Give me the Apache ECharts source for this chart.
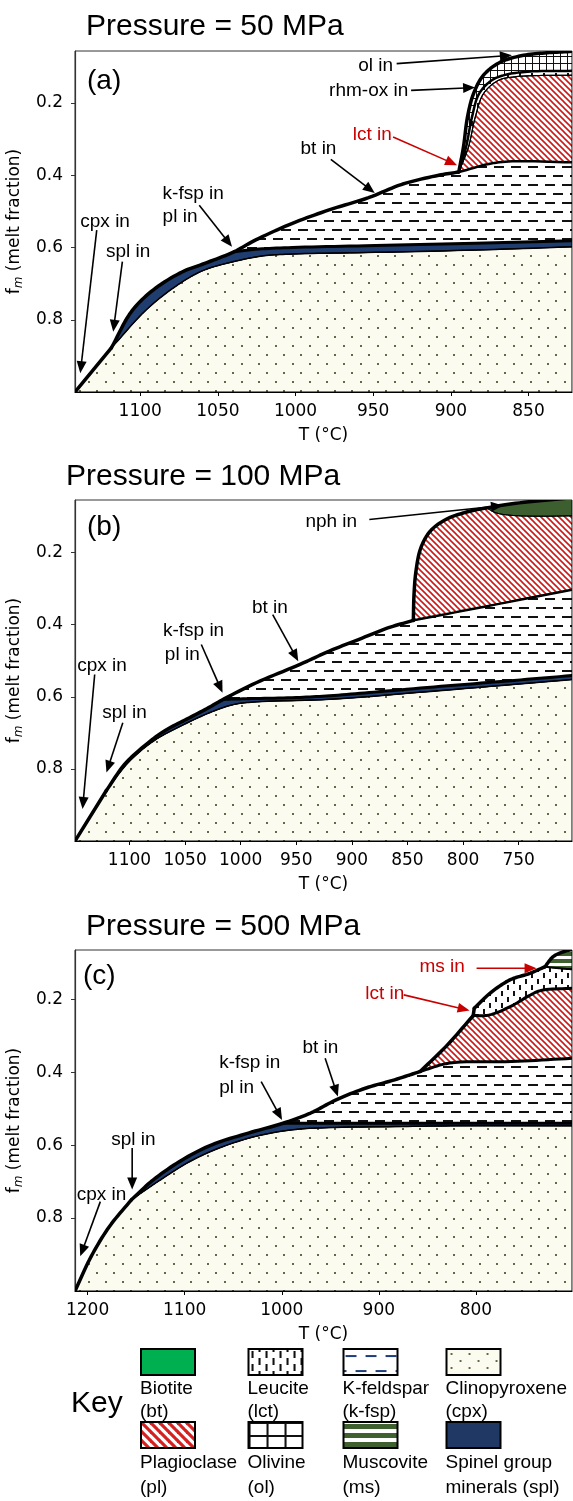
<!DOCTYPE html>
<html>
<head>
<meta charset="utf-8">
<script src="https://cdn.jsdelivr.net/npm/echarts@6/dist/echarts.min.js"></script>
<style>
html,body{margin:0;padding:0;background:#fff;}
#chart{width:573px;height:1501px;}
</style>
</head>
<body>
<div id="chart"></div>
<script>
// phase boundaries, [T (°C), melt fraction]
// --- 50 MPa
var liqA = [[1142,1.0],[1118.6,0.878],[1105.6,0.777],[1091.5,0.717],[1072.7,0.667],[1058.5,0.644],[1039.7,0.612],[1025.6,0.579],[1002,0.533],[978.4,0.496],[953,0.462],[931.4,0.425],[907.8,0.40],[894.9,0.391],[891.9,0.322],[889.3,0.239],[885.4,0.174],[879,0.123],[868.2,0.087],[853.2,0.068],[838.1,0.061],[822,0.057]];
var cpxTopA = [[1118.6,0.878],[1096.2,0.773],[1077.4,0.708],[1059.7,0.664],[1039.7,0.639],[1020.8,0.623],[1002,0.618],[955,0.614],[884.3,0.607],[822,0.598]];
var splTopA = [[1039.7,0.612],[1025.6,0.605],[1002,0.600],[955,0.595],[884.3,0.588],[822,0.581]];
var fspTopA = [[894.9,0.391],[869,0.364],[822,0.364]];
var plTopA = [[894.9,0.391],[888.7,0.322],[884.3,0.239],[879,0.174],[869.3,0.137],[858,0.127],[845,0.124],[822,0.123]];
var olBaseA = [[894.9,0.391],[890.2,0.322],[886.4,0.239],[881.8,0.174],[873.6,0.137],[864,0.121],[849,0.113],[822,0.111]];
// --- 100 MPa
var liqB = [[1149,1.0],[1120.8,0.86],[1104.3,0.787],[1084.6,0.731],[1068.2,0.694],[1048.5,0.662],[1028.8,0.63],[1015.6,0.607],[986,0.561],[946.6,0.51],[920.2,0.473],[890.7,0.437],[867.7,0.409],[844.7,0.388],[844.1,0.317],[842.4,0.253],[838.1,0.188],[829.9,0.142],[816.7,0.11],[798.7,0.089],[779,0.076],[749.4,0.062],[702,0.048]];
var cpxTopB = [[1120.8,0.86],[1101,0.782],[1078,0.722],[1051.8,0.678],[1025.5,0.641],[1005.8,0.621],[986,0.614],[920.2,0.607],[821.7,0.583],[702,0.552]];
var splTopB = [[1015.6,0.607],[990,0.605],[950,0.602],[920,0.597],[880,0.587],[820,0.571],[760,0.556],[702,0.541]];
var fspTopB = [[844.7,0.388],[772.4,0.345],[702,0.303]];
var nphBaseB = [[779,0.076],[770,0.09],[755,0.097],[730,0.099],[702,0.098]];
// --- 500 MPa
var liqC = [[1213,1.0],[1196.3,0.905],[1177.5,0.823],[1154.9,0.75],[1132.3,0.695],[1102.2,0.64],[1072,0.599],[1034.4,0.567],[998.6,0.54],[970.3,0.512],[944,0.476],[913.9,0.444],[883.8,0.421],[857.4,0.398],[831,0.33],[802.8,0.245],[801.7,0.225],[785.6,0.184],[765,0.147],[744.4,0.129],[728.9,0.111],[720.3,0.083],[710,0.07],[701,0.063]];
var cpxTopC = [[1154.9,0.75],[1124.8,0.695],[1094.7,0.645],[1064.5,0.608],[1026.9,0.576],[989.2,0.558],[951.5,0.552],[876.2,0.549],[819.7,0.547],[701,0.547]];
var splTopC = [[998.6,0.54],[913.9,0.54],[701,0.54]];
var fspTopC = [[857.4,0.398],[827.2,0.375],[763.2,0.371],[701,0.362]];
var plTopC = [[802.8,0.245],[786,0.243],[763,0.218],[745,0.19],[733,0.176],[701,0.17]];
var msBaseC = [[728.9,0.111],[715,0.115],[701,0.118]];

// corners on the liquidus (phase-in points)
var kinksA = [1118.6, 894.9];
var kinksB = [1120.8, 844.7];
var kinksC = [1154.9, 857.4, 802.8, 801.7, 728.9];

// tick labels
var xTicksA = [1100,1050,1000,950,900,850];
var xTicksB = [1100,1050,1000,950,900,850,800,750];
var xTicksC = [1200,1100,1000,900,800];
var yTicks = [0.2,0.4,0.6,0.8];

// annotations: label, text at [T,fm], arrow from [T,fm] to [T,fm]
var notesA = [
    ['ol in', 959.7, 0.096, 934.9, 0.091, 860.7, 0.068],
    ['rhm-ox in', 978.4, 0.167, 925.6, 0.165, 884.4, 0.157],
    ['lct in', 963.2, 0.289, 937.2, 0.294, 896, 0.372],
    ['bt in', 996.8, 0.326, 977.3, 0.356, 949, 0.449],
    ['k-fsp in', 1085.6, 0.45],
    ['pl in', 1085.6, 0.515, 1062, 0.483, 1040.9, 0.598],
    ['cpx in', 1138.6, 0.529, 1128, 0.552, 1138.6, 0.948],
    ['spl in', 1122.1, 0.612, 1111.5, 0.639, 1117.4, 0.833]
];
var notesB = [
    ['nph in', 941.8, 0.114, 884.3, 0.108, 764.1, 0.069],
    ['bt in', 989.9, 0.352, 971.2, 0.372, 948.2, 0.501],
    ['k-fsp in', 1069.9, 0.418],
    ['pl in', 1068.2, 0.483, 1035.4, 0.455, 1016.3, 0.589],
    ['cpx in', 1147, 0.515, 1131.3, 0.538, 1142.2, 0.911],
    ['spl in', 1124.4, 0.644, 1106, 0.672, 1120.7, 0.81]
];
var notesC = [
    ['ms in', 858.1, 0.111, 799.3, 0.115, 737.5, 0.115],
    ['lct in', 913.9, 0.184, 874.3, 0.188, 806.5, 0.231],
    ['bt in', 978.7, 0.334, 955.3, 0.362, 942.2, 0.467],
    ['k-fsp in', 1064.5, 0.375],
    ['pl in', 1064.5, 0.444, 1021.2, 0.426, 999.7, 0.531],
    ['spl in', 1175.6, 0.585, 1154.1, 0.608, 1154.1, 0.722],
    ['cpx in', 1211.3, 0.736, 1186.9, 0.755, 1207.6, 0.905]
];
var redNotes = ['lct in', 'ms in'];

// key
var keyNames = [['Biotite','(bt)'],['Leucite','(lct)'],['K-feldspar','(k-fsp)'],['Clinopyroxene','(cpx)'],
                ['Plagioclase','(pl)'],['Olivine','(ol)'],['Muscovite','(ms)'],['Spinel group','minerals (spl)']];

// ---------- fill patterns
function tile(w, h, bg, draw) {
    var c = document.createElement('canvas');
    c.width = w; c.height = h;
    var g = c.getContext('2d');
    g.fillStyle = bg; g.fillRect(0, 0, w, h);
    if (draw) draw(g);
    return {image: c, repeat: 'repeat'};
}
function hatch(s, col, lw) {
    return tile(s, s, '#fff', function (g) {
        g.strokeStyle = col; g.lineWidth = lw;
        for (var k = -1; k <= 1; k++) {
            g.beginPath(); g.moveTo(k * s - 1, -1); g.lineTo(k * s + s + 1, s + 1); g.stroke();
        }
    });
}
var pat = {
    cpx: tile(17, 18, '#fbfbef', function (g) { g.fillStyle = '#66664a'; g.fillRect(3, 3, 2, 2); g.fillRect(11, 12, 2, 2); }),
    spl: '#1f3d6f',
    kfsp: tile(17, 18, '#fff', function (g) { g.fillStyle = '#111'; g.fillRect(1, 4, 10, 2); g.fillRect(9, 13, 10, 2); g.fillRect(-8, 13, 10, 2); }),
    plag: hatch(6, '#cc1a1a', 1.6),
    ol: tile(7, 7, '#fff', function (g) { g.fillStyle = '#111'; g.fillRect(0, 0, 7, 1); g.fillRect(0, 0, 1, 7); }),
    lct: tile(12, 12, '#fff', function (g) { g.fillStyle = '#111'; g.fillRect(3, 1, 2, 5); g.fillRect(9, 7, 2, 5); }),
    ms: tile(4, 7, '#fff', function (g) { g.fillStyle = '#3f6130'; g.fillRect(0, 0, 4, 4); }),
    nph: '#3d5e2e'
};
var keyPat = [
    '#00b050',
    tile(14, 13, '#fff', function (g) { g.fillStyle = '#111'; g.fillRect(3, 2, 2, 7); g.fillRect(10, 9, 2, 7); g.fillRect(10, -4, 2, 7); }),
    tile(20, 30, '#fff', function (g) { g.fillStyle = '#1f3d7a'; g.fillRect(2, 6, 11, 2); g.fillRect(12, 21, 11, 2); g.fillRect(-8, 21, 11, 2); }),
    tile(18, 14, '#fbfbef', function (g) { g.fillStyle = '#66664a'; g.fillRect(4, 4, 2, 2); g.fillRect(13, 11, 2, 2); }),
    hatch(9, '#d42020', 3.2),
    tile(18, 13, '#fff', function (g) { g.fillStyle = '#111'; g.fillRect(0, 0, 18, 2); g.fillRect(0, 0, 2, 13); }),
    tile(4, 9, '#fff', function (g) { g.fillStyle = '#3f6130'; g.fillRect(0, 2, 4, 5); }),
    '#1f3864'
];

function seg(c, hi, lo) { return c.filter(function (p) { return p[0] <= hi + 1e-9 && p[0] >= lo - 1e-9; }); }
function rev(c) { return c.slice().reverse(); }
function splitAt(c, kinks) {
    var cuts = [c[0][0]].concat(kinks, [c[c.length - 1][0]]), out = [];
    for (var i = 0; i < cuts.length - 1; i++) out.push(seg(c, cuts[i], cuts[i + 1]));
    return out;
}

// regions: list of boundary pieces (each piece drawn as a smooth curve) and a fill
var regA = [
    [[seg(liqA, 1142, 1118.6), cpxTopA, [[822, 1], [1142, 1]]], pat.cpx],
    [[seg(liqA, 1118.6, 1039.7), splTopA, rev(cpxTopA)], pat.spl],
    [[seg(liqA, 1039.7, 894.9), fspTopA, rev(splTopA)], pat.kfsp],
    [[plTopA, rev(fspTopA)], pat.plag],
    [[olBaseA, rev(plTopA)], pat.lct],
    [[seg(liqA, 894.9, 822), rev(olBaseA)], pat.ol]
];
var regB = [
    [[seg(liqB, 1149, 1120.8), cpxTopB, [[702, 1], [1149, 1]]], pat.cpx],
    [[seg(liqB, 1120.8, 1015.6), splTopB, rev(cpxTopB)], pat.spl],
    [[seg(liqB, 1015.6, 844.7), fspTopB, rev(splTopB)], pat.kfsp],
    [[seg(liqB, 844.7, 702), rev(fspTopB)], pat.plag],
    [[seg(liqB, 779, 702), rev(nphBaseB)], pat.nph]
];
var regC = [
    [[seg(liqC, 1213, 1154.9), cpxTopC, [[701, 1], [1213, 1]]], pat.cpx],
    [[seg(liqC, 1154.9, 998.6), splTopC, rev(cpxTopC)], pat.spl],
    [[seg(liqC, 998.6, 857.4), fspTopC, rev(splTopC)], pat.kfsp],
    [[seg(liqC, 857.4, 802.8), plTopC, rev(fspTopC)], pat.plag],
    [[seg(liqC, 802.8, 801.7), seg(liqC, 801.7, 701), rev(plTopC)], pat.lct],
    [[seg(liqC, 728.9, 701), rev(msBaseC)], pat.ms]
];

function widths(pieces, w) { return pieces.map(function (pc) { return [pc, w]; }); }

var panels = [
    {t: [822, 1142], f: 0.056, ticks: xTicksA, top: 51, reg: regA, notes: notesA,
     edges: [[cpxTopA, 1.5], [plTopA, 1.2], [olBaseA, 2.5], [fspTopA, 2.5], [splTopA, 3]].concat(widths(splitAt(liqA, kinksA), 3.5))},
    {t: [702, 1149], f: 0.054, ticks: xTicksB, top: 500, reg: regB, notes: notesB,
     edges: [[cpxTopB, 1.5], [nphBaseB, 1], [fspTopB, 2.5], [splTopB, 3]].concat(widths(splitAt(liqB, kinksB), 3.5))},
    {t: [701, 1213], f: 0.065, ticks: xTicksC, top: 950, reg: regC, notes: notesC,
     edges: [[cpxTopC, 1.5], [msBaseC, 2], [fspTopC, 3], [plTopC, 3], [splTopC, 3]].concat(widths(splitAt(liqC, kinksC), 3.5))}
];

// centripetal Catmull-Rom through screen points
function lerp(a, b, u) { return [a[0] + (b[0] - a[0]) * u, a[1] + (b[1] - a[1]) * u]; }
function knot(a, b) { return Math.max(Math.sqrt(Math.hypot(b[0] - a[0], b[1] - a[1])), 1e-3); }
function smoothPts(pts) {
    var n = pts.length;
    if (n < 3) return pts.slice();
    var out = [];
    for (var i = 0; i < n - 1; i++) {
        var p1 = pts[i], p2 = pts[i + 1];
        var p0 = i > 0 ? pts[i - 1] : [2 * p1[0] - p2[0], 2 * p1[1] - p2[1]];
        var p3 = i < n - 2 ? pts[i + 2] : [2 * p2[0] - p1[0], 2 * p2[1] - p1[1]];
        var t0 = 0, t1 = t0 + knot(p0, p1), t2 = t1 + knot(p1, p2), t3 = t2 + knot(p2, p3);
        for (var s = 0; s < 10; s++) {
            var t = t1 + (t2 - t1) * s / 10;
            var A1 = lerp(p0, p1, (t - t0) / (t1 - t0)), A2 = lerp(p1, p2, (t - t1) / (t2 - t1)), A3 = lerp(p2, p3, (t - t2) / (t3 - t2));
            var B1 = lerp(A1, A2, (t - t0) / (t2 - t0)), B2 = lerp(A2, A3, (t - t1) / (t3 - t1));
            out.push(lerp(B1, B2, (t - t1) / (t2 - t1)));
        }
    }
    out.push(pts[n - 1]);
    return out;
}
function screenCurve(api, pc) { return smoothPts(pc.map(function (v) { return api.coord(v); })); }

var tickFont = {fontFamily: 'DejaVu Sans', fontSize: 17, color: '#000'};
var noteFont = '19px "Liberation Sans", Arial, sans-serif';

var grids = [], xAxes = [], yAxes = [], series = [];
panels.forEach(function (p, i) {
    grids.push({left: 75, top: p.top, width: 497, height: 341, show: true, borderColor: '#333', borderWidth: 1,
                backgroundColor: '#fff', outerBoundsMode: 'none'});
    xAxes.push({
        gridIndex: i, type: 'value', inverse: true, min: p.t[0], max: p.t[1],
        name: 'T (°C)', nameLocation: 'middle', nameGap: 35, nameTextStyle: tickFont,
        axisLine: {show: true, onZero: false, lineStyle: {color: '#000', width: 1.2}},
        axisTick: {show: true, customValues: p.ticks, length: 4, lineStyle: {color: '#000'}},
        axisLabel: {show: true, customValues: p.ticks, formatter: function (v) { return String(v); },
                    fontFamily: 'DejaVu Sans', fontSize: 17, color: '#000', margin: 11},
        splitLine: {show: false}
    });
    yAxes.push({
        gridIndex: i, type: 'value', inverse: true, min: p.f, max: 1,
        name: '{n|f}{s|m}{n| (melt fraction)}', nameLocation: 'middle', nameGap: 41, nameRotate: 90,
        nameTextStyle: {color: '#000', rich: {
            n: {fontFamily: 'DejaVu Sans', fontSize: 17, color: '#000', verticalAlign: 'middle', lineHeight: 20},
            s: {fontFamily: 'DejaVu Sans', fontSize: 12, fontStyle: 'italic', color: '#000', verticalAlign: 'bottom', lineHeight: 14, padding: [8, 0, 0, 0]}
        }},
        axisLine: {show: true, onZero: false, lineStyle: {color: '#333', width: 1.2}},
        axisTick: {show: true, customValues: yTicks, length: 4, lineStyle: {color: '#333'}},
        axisLabel: {show: true, customValues: yTicks, formatter: function (v) { return v.toFixed(1); },
                    fontFamily: 'DejaVu Sans', fontSize: 17, color: '#000', margin: 12},
        splitLine: {show: false}
    });
    // phase fields
    series.push({
        type: 'custom', xAxisIndex: i, yAxisIndex: i, clip: true, silent: true,
        data: p.reg.map(function (r) { return r[0][0][0]; }),
        renderItem: function (params, api) {
            var r = p.reg[params.dataIndex], pts = [];
            r[0].forEach(function (pc) { pts = pts.concat(screenCurve(api, pc)); });
            return {type: 'polygon', shape: {points: pts}, style: {fill: r[1], stroke: '#000', lineWidth: 1}};
        }
    });
    // boundary lines
    series.push({
        type: 'custom', xAxisIndex: i, yAxisIndex: i, clip: true, silent: true,
        data: p.edges.map(function (e) { return e[0][0]; }),
        renderItem: function (params, api) {
            var e = p.edges[params.dataIndex];
            return {type: 'polyline', shape: {points: screenCurve(api, e[0])},
                    style: {fill: null, stroke: '#000', lineWidth: e[1], lineJoin: 'round', lineCap: 'round'}};
        }
    });
    // labels and arrows
    series.push({
        type: 'custom', xAxisIndex: i, yAxisIndex: i, clip: false, silent: true, z: 5,
        data: p.notes.map(function (n) { return [n[1], n[2]]; }),
        renderItem: function (params, api) {
            var n = p.notes[params.dataIndex];
            var col = redNotes.indexOf(n[0]) >= 0 ? '#c80000' : '#000';
            var at = api.coord([n[1], n[2]]);
            var kids = [{type: 'text', x: at[0], y: at[1],
                         style: {text: n[0], fill: col, font: noteFont, align: 'left', verticalAlign: 'middle'}}];
            if (n.length > 3) {
                var a = api.coord([n[3], n[4]]), b = api.coord([n[5], n[6]]);
                var dx = b[0] - a[0], dy = b[1] - a[1], len = Math.sqrt(dx * dx + dy * dy);
                var ux = dx / len, uy = dy / len, hl = 12, hw = 5;
                var bx = b[0] - ux * hl, by = b[1] - uy * hl;
                kids.push({type: 'line', shape: {x1: a[0], y1: a[1], x2: bx + ux * 2, y2: by + uy * 2},
                           style: {stroke: col, lineWidth: 1.6}});
                kids.push({type: 'polygon', shape: {points: [[b[0], b[1]], [bx - uy * hw, by + ux * hw], [bx + uy * hw, by - ux * hw]]},
                           style: {fill: col}});
            }
            return {type: 'group', children: kids};
        }
    });
});

var titleFont = '30px "Liberation Sans", Arial, sans-serif';
var letterFont = '28px "Liberation Sans", Arial, sans-serif';
var graphic = [
    {type: 'text', x: 86, y: 27, style: {text: 'Pressure = 50 MPa', font: titleFont, fill: '#000', verticalAlign: 'middle'}},
    {type: 'text', x: 66, y: 477, style: {text: 'Pressure = 100 MPa', font: titleFont, fill: '#000', verticalAlign: 'middle'}},
    {type: 'text', x: 86, y: 927, style: {text: 'Pressure = 500 MPa', font: titleFont, fill: '#000', verticalAlign: 'middle'}},
    {type: 'text', x: 87, y: 81, style: {text: '(a)', font: letterFont, fill: '#000', verticalAlign: 'middle'}},
    {type: 'text', x: 87, y: 527, style: {text: '(b)', font: letterFont, fill: '#000', verticalAlign: 'middle'}},
    {type: 'text', x: 83, y: 976, style: {text: '(c)', font: letterFont, fill: '#000', verticalAlign: 'middle'}},
    {type: 'text', x: 71, y: 1404, style: {text: 'Key', font: '30px "Liberation Sans", Arial, sans-serif', fill: '#000', verticalAlign: 'middle'}}
];
var keyX = [141, 248.5, 343.5, 446.5];
var boxY = [1349, 1422];
var lab1Y = [1389, 1463];
var lab2Y = [1412, 1488];
keyNames.forEach(function (k, j) {
    var c = j % 4, r = Math.floor(j / 4);
    graphic.push({type: 'rect', x: keyX[c], y: boxY[r], shape: {x: 0, y: 0, width: 54, height: 26},
                  style: {fill: keyPat[j], stroke: '#000', lineWidth: 2}});
    graphic.push({type: 'text', x: keyX[c] - 1, y: lab1Y[r], style: {text: k[0], font: noteFont, fill: '#000', verticalAlign: 'middle'}});
    graphic.push({type: 'text', x: keyX[c] - 1, y: lab2Y[r], style: {text: k[1], font: noteFont, fill: '#000', verticalAlign: 'middle'}});
});

var myChart = echarts.init(document.getElementById('chart'), null, {renderer: 'canvas'});
myChart.setOption({
    animation: false,
    backgroundColor: '#fff',
    grid: grids,
    xAxis: xAxes,
    yAxis: yAxes,
    series: series,
    graphic: graphic
});
</script>
</body>
</html>
